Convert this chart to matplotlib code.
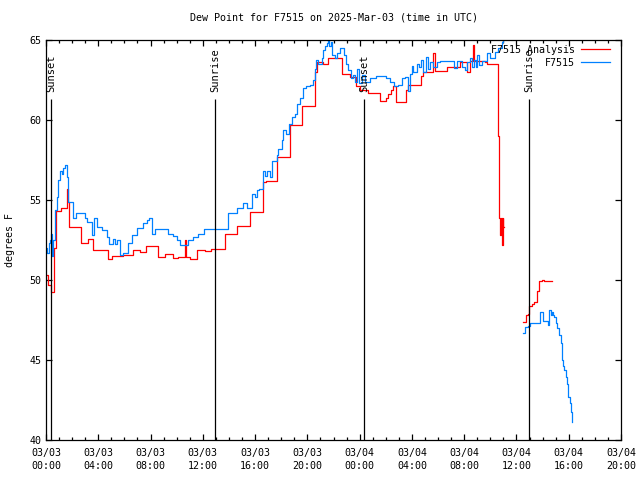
import numpy as np
import matplotlib
matplotlib.use('Agg')
import matplotlib.pyplot as plt
from matplotlib.ticker import MultipleLocator

# hours since 2025-03-03 00:00 UTC
nan = float('nan')

ana_hours = [0.0, 0.18, 0.38, 0.64, 0.74, 1.15, 1.63, 1.72, 1.78, 2.66, 3.24, 3.62, 4.72, 5.03, 5.87,
             6.63, 7.19, 7.65, 8.59, 9.11, 9.70, 10.12, 10.64, 10.70, 11.02, 11.58, 12.17, 12.60,
             13.70, 14.64, 15.61, 16.63, 16.84, 17.65, 18.67, 19.57, 20.07, 20.61, 20.76, 21.17,
             21.60, 22.63, 23.26, 23.72, 24.03, 24.62, 25.56, 26.0, 26.2, 26.4, 26.58, 26.76,
             27.55, 27.72, 28.67, 28.83, 29.64, 29.77, 30.66, 31.68, 32.19, 32.45, 32.65, 32.72,
             33.59, 33.72, 34.61, 34.69, 34.74, 34.79, 34.87, 34.95, 35.0, 35.05,
             36.52, 36.71, 36.91, 36.98, 37.17, 37.37, 37.60, 37.70, 37.93, 38.11, 38.70]
ana_vals = [50.3, 49.7, 49.25, 52.0, 54.3, 54.5, 55.7, 54.9, 53.3, 52.3, 52.56, 51.9, 51.3, 51.5, 51.55,
            51.9, 51.75, 52.1, 51.45, 51.6, 51.4, 51.45, 52.5, 51.45, 51.3, 51.9, 51.8, 51.94,
            52.9, 53.4, 54.27, 56.1, 56.2, 57.7, 59.7, 60.9, 60.85, 63.0, 63.6, 63.5,
            63.85, 62.85, 62.7, 62.1, 61.9, 61.7, 61.2, 61.4, 61.65, 61.9, 62.15, 61.1,
            61.9, 62.2, 62.77, 63.0, 64.2, 63.06, 63.3, 63.6, 63.0, 63.7, 64.7, 63.7,
            63.6, 63.5, 59.0, 53.9, 52.8, 53.9, 52.2, 53.9, 53.3, nan,
            47.4, 47.8, 47.9, 48.4, 48.5, 48.6, 49.3, 49.94, 50.0, 49.94, 49.94]

obs_hours = [0.0, 0.1, 0.2, 0.3, 0.36, 0.46, 0.56, 0.68, 0.81, 0.94, 1.07, 1.20, 1.32, 1.45, 1.58,
             1.71, 2.04, 2.30, 2.98, 3.11, 3.37, 3.50, 3.67, 3.88, 4.26, 4.64, 4.84, 5.15, 5.28,
             5.46, 5.66, 5.92, 6.30, 6.56, 6.94, 7.45, 7.70, 7.91, 8.09, 8.34, 9.36, 9.74, 10.05,
             10.26, 10.89, 11.27, 11.66, 12.11, 13.95, 14.64, 15.05, 15.35, 15.73, 15.98, 16.12,
             16.32, 16.58, 16.76, 16.89, 17.14, 17.27, 17.65, 17.79, 18.04, 18.12, 18.37, 18.62,
             18.85, 19.05, 19.18, 19.44, 19.64, 19.90, 20.20, 20.45, 20.58, 20.66, 20.79, 21.10,
             21.22, 21.35, 21.48, 21.60, 21.68, 21.79, 21.86, 22.12, 22.29, 22.50, 22.80, 22.96,
             23.13, 23.34, 23.52, 23.65, 23.82, 23.95, 24.16, 24.41, 24.79, 25.23, 26.02, 26.32,
             26.63, 26.96, 27.22, 27.47, 27.72, 27.85, 27.98, 28.11, 28.37, 28.54, 28.67, 28.87,
             29.08, 29.26, 29.38, 29.64, 29.90, 30.15, 31.22, 31.43, 31.81, 32.06, 32.19, 32.45,
             32.58, 32.75, 32.90, 33.0, 33.16, 33.34, 33.72, 33.98, 34.36, 34.61, 34.87, 34.99, 35.05,
             36.52, 36.65, 36.91, 37.04, 37.80, 38.05, 38.44, 38.51, 38.62, 38.70, 38.80, 38.87,
             39.03, 39.13, 39.28, 39.39, 39.46, 39.54, 39.66, 39.77, 39.84, 39.97, 40.10, 40.17, 40.27]
obs_vals = [52.0, 51.7, 52.3, 52.5, 52.9, 51.5, 52.5, 54.4, 55.2, 56.25, 56.8, 56.6, 57.0, 57.2, 56.45,
            54.9, 53.85, 54.2, 53.85, 53.65, 53.6, 52.8, 53.85, 53.3, 53.1, 52.67, 52.25, 52.54, 52.25,
            52.5, 51.56, 51.7, 52.3, 52.8, 53.23, 53.54, 53.75, 53.85, 52.85, 53.17, 52.9, 52.75, 52.5,
            52.2, 52.5, 52.7, 52.9, 53.17, 54.17, 54.48, 54.8, 54.5, 55.4, 55.2, 55.6,
            55.7, 56.8, 56.5, 56.8, 56.45, 57.46, 57.8, 58.2, 58.75, 59.4, 59.1, 59.75,
            60.2, 60.4, 61.0, 61.35, 61.98, 62.1, 62.2, 62.5, 63.2, 63.75, 63.5, 63.85,
            64.4, 64.6, 64.8, 65.0, 64.6, 64.9, 64.06, 63.85, 64.2, 64.5, 64.06, 63.5,
            63.1, 62.65, 62.8, 62.4, 63.2, 62.3, 62.8, 62.4, 62.6, 62.77, 62.65, 62.4,
            62.1, 62.2, 62.6, 62.7, 61.8, 62.9, 63.4, 63.0, 63.5, 63.3, 63.75, 63.0,
            63.96, 63.2, 63.65, 63.33, 63.65, 63.7, 63.27, 63.7, 63.3, 63.1, 63.65, 63.85,
            63.33, 63.75, 63.3, 64.06, 63.44, 63.7, 64.2, 63.9, 64.27, 64.5, 64.9, 65.3, nan,
            46.7, 47.04, 47.1, 47.3, 47.98, 47.44, 47.2, 48.1, 47.8, 48.0, 47.8, 47.67,
            47.3, 46.98, 46.56, 46.04, 45.0, 44.6, 44.4, 43.96, 43.5, 42.7, 42.3, 41.77, 41.15]

sun_hours = [0.4, 12.93, 24.33, 36.98]
sun_labels = ['Sunset', 'Sunrise', 'Sunset', 'Sunrise']

tick_hours = list(range(0, 45, 4))
tick_labels = ['03/03\n00:00', '03/03\n04:00', '03/03\n08:00', '03/03\n12:00', '03/03\n16:00',
               '03/03\n20:00', '03/04\n00:00', '03/04\n04:00', '03/04\n08:00', '03/04\n12:00',
               '03/04\n16:00', '03/04\n20:00']

plt.rcParams['font.family'] = ['DejaVu Sans Mono']
fs = 7.2

fig = plt.figure(figsize=(6.4, 4.8), dpi=100)
ax = fig.add_axes([46/640, 40/480, 575/640, 400/480])

ax.plot(ana_hours, ana_vals, color='#ff0000', lw=0.9, drawstyle='steps-post', label='F7515 Analysis')
ax.plot(obs_hours, obs_vals, color='#0080ff', lw=0.9, drawstyle='steps-post', label='F7515')

for h, lab in zip(sun_hours, sun_labels):
    ax.vlines(h, 40, 61.3, color='black', lw=0.9)
    ax.text(h, 61.75, lab, rotation=90, ha='center', va='bottom', fontsize=7.5)

ax.set_xlim(0, 44)
ax.set_ylim(40, 65)
ax.set_xticks(tick_hours)
ax.set_xticklabels(tick_labels, linespacing=1.35)
ax.xaxis.set_minor_locator(MultipleLocator(1))
ax.set_yticks([40, 45, 50, 55, 60, 65])
ax.tick_params(axis='both', which='both', direction='in', top=True, right=True, labelsize=fs, width=0.9)
ax.tick_params(axis='both', which='major', length=4)
ax.tick_params(axis='both', which='minor', length=2.5)
ax.tick_params(axis='y', which='minor', left=False, right=False)
ax.tick_params(axis='x', pad=6)
for s in ax.spines.values():
    s.set_linewidth(0.9)

ax.set_ylabel('degrees F', fontsize=fs, labelpad=10)
ax.set_title('Dew Point for F7515 on 2025-Mar-03 (time in UTC)', fontsize=fs, pad=14)

ax.legend(loc='upper right', bbox_to_anchor=(1 - 5/575, 1 + 1/400), frameon=False,
          markerfirst=False, fontsize=fs, handlelength=2.9, borderaxespad=0.2,
          labelspacing=0.3, handletextpad=0.6)

fig.savefig('out.png', dpi=100)
